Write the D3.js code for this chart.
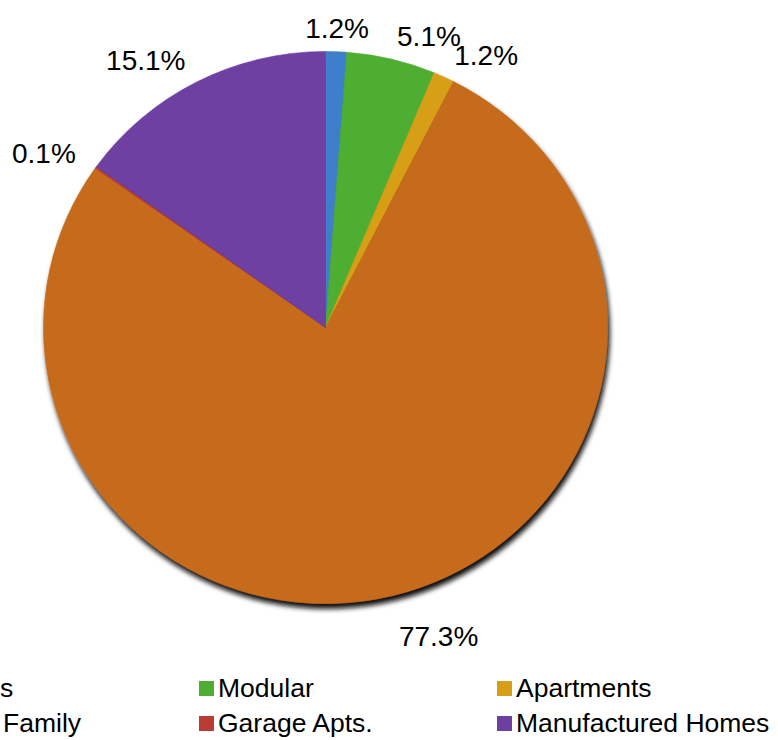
<!DOCTYPE html>
<html>
<head>
<meta charset="utf-8">
<script src="https://cdn.jsdelivr.net/npm/d3@7/dist/d3.min.js"></script>
<style>
  html, body { margin: 0; padding: 0; background: #fff; }
  svg { display: block; }
  text { font-family: "Liberation Sans", Arial, sans-serif; fill: #000; }
</style>
</head>
<body>
<svg id="chart" width="778" height="740"></svg>
<script>
// ---- data ----
const categories = ["Condos", "Modular", "Apartments", "Single Family", "Garage Apts.", "Manufactured Homes"];
const values = [1.2, 5.1, 1.2, 77.3, 0.1, 15.1];
const colors = ["#3d7fcc", "#4dae33", "#d79f17", "#c66a1f", "#b93c34", "#6e3fa2"];
// pie slice order (clockwise from 12 o'clock)
const sliceOrder = ["Condos", "Modular", "Apartments", "Single Family", "Garage Apts.", "Manufactured Homes"];

const svg = d3.select("#chart");

// ---- geometry ----
const cx = 325.5, cy = 327.5, ry = 276, rx = 282;
const sx = rx / ry;

const defs = svg.append("defs");
const f = defs.append("filter").attr("id", "shadow")
  .attr("x", "-10%").attr("y", "-10%").attr("width", "125%").attr("height", "125%");
f.append("feDropShadow").attr("dx", 2).attr("dy", 5).attr("stdDeviation", 2.8)
  .attr("flood-color", "#111").attr("flood-opacity", 1);

const color = d3.scaleOrdinal().domain(categories).range(colors);
const data = sliceOrder.map(c => ({ name: c, value: values[categories.indexOf(c)] }));

const pie = d3.pie().value(d => d.value).sort(null);
const arcs = pie(data);
const arc = d3.arc().innerRadius(0).outerRadius(ry);

const pieG = svg.append("g")
  .attr("filter", "url(#shadow)")
  .append("g")
  .attr("transform", `translate(${cx},${cy}) scale(${sx},1)`);

pieG.selectAll("path").data(arcs).join("path")
  .attr("d", arc)
  .attr("fill", d => color(d.data.name))
  .attr("stroke", d => color(d.data.name))
  .attr("stroke-width", 0.6);

// ---- labels ----
const fmt = v => d3.format(".1f")(v) + "%";
const labelR = 300;
const labelG = svg.append("g");
arcs.forEach(a => {
  const mid = (a.startAngle + a.endAngle) / 2;
  const s = Math.sin(mid), c = Math.cos(mid);
  const px = cx + sx * labelR * s;
  let py = cy - labelR * c;
  let anchor = Math.abs(s) < 0.1 ? "middle" : (s > 0 ? "start" : "end");
  if (c < -0.5) py += 17;
  labelG.append("text")
    .attr("x", px).attr("y", py)
    .attr("dy", "0.35em")
    .attr("text-anchor", anchor)
    .attr("font-size", 28)
    .text(fmt(a.data.value));
});

// ---- legend ----
const legendCols = [-97, 199, 497];
const legendRows = [681, 716];
const leg = svg.append("g");
categories.forEach((c, i) => {
  const col = i % 3, row = Math.floor(i / 3);
  const x = legendCols[col], y = legendRows[row];
  leg.append("rect").attr("x", x).attr("y", y).attr("width", 15).attr("height", 15)
    .attr("fill", color(c));
  leg.append("text").attr("x", x + 19).attr("y", y + 15.5)
    .attr("font-size", 26.5)
    .text(c);
});
</script>
</body>
</html>
